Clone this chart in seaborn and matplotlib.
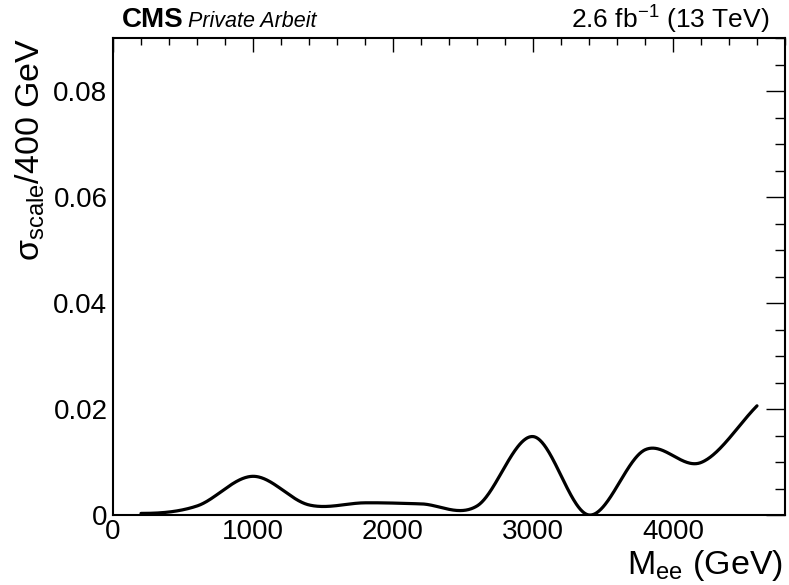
import numpy as np
import pandas as pd
import matplotlib
matplotlib.use("Agg")
import matplotlib.pyplot as plt
import seaborn as sns
from matplotlib.ticker import MultipleLocator, FixedLocator

# ---- data ----
mass_gev = [200, 600, 1000, 1400, 1800, 2200, 2600, 3000, 3400, 3800, 4200, 4600]
sigma_scale = [0.0003, 0.0017, 0.0073, 0.0019, 0.0023, 0.0021, 0.0017, 0.0148,
               0.0000, 0.0123, 0.0099, 0.0206]
x_ticks = [0, 1000, 2000, 3000, 4000]
x_tick_labels = ["0", "1000", "2000", "3000", "4000"]
y_ticks = [0, 0.02, 0.04, 0.06, 0.08]
y_tick_labels = ["0", "0.02", "0.04", "0.06", "0.08"]


def catmull_rom(x, y, n_per_seg=80):
    """Smooth curve through the points (like ROOT's 'C' draw option)."""
    x = np.asarray(x, float)
    y = np.asarray(y, float)
    n = len(x)
    m = np.zeros(n)
    m[1:-1] = (y[2:] - y[:-2]) / (x[2:] - x[:-2])
    m[0] = 0.0
    m[-1] = (y[-1] - y[-2]) / (x[-1] - x[-2])
    xs_all, ys_all = [], []
    for i in range(n - 1):
        h = x[i + 1] - x[i]
        t = np.linspace(0, 1, n_per_seg, endpoint=(i == n - 2))
        h00 = 2 * t**3 - 3 * t**2 + 1
        h10 = t**3 - 2 * t**2 + t
        h01 = -2 * t**3 + 3 * t**2
        h11 = t**3 - t**2
        xs_all.append(x[i] + t * h)
        ys_all.append(h00 * y[i] + h10 * h * m[i] + h01 * y[i + 1] + h11 * h * m[i + 1])
    return np.concatenate(xs_all), np.concatenate(ys_all)


sns.set_theme(style="white")
plt.rcParams["font.family"] = ["Liberation Sans", "DejaVu Sans"]
plt.rcParams["mathtext.fontset"] = "custom"
plt.rcParams["mathtext.rm"] = "Liberation Sans"
plt.rcParams["mathtext.it"] = "Liberation Sans:italic"
plt.rcParams["mathtext.bf"] = "Liberation Sans:bold"
plt.rcParams["mathtext.default"] = "regular"
plt.rcParams["text.color"] = "black"
plt.rcParams["axes.labelcolor"] = "black"
plt.rcParams["xtick.color"] = "black"
plt.rcParams["ytick.color"] = "black"

fig = plt.figure(figsize=(7.89, 5.85), dpi=100)
ax = fig.add_axes([113 / 789, 1 - 515 / 585, (785 - 113) / 789, (515 - 38) / 585])

xs, ys = catmull_rom(mass_gev, sigma_scale)
df = pd.DataFrame({"M": xs, "sigma": ys})
sns.lineplot(data=df, x="M", y="sigma", ax=ax, color="black", linewidth=2.3,
             sort=False, estimator=None)

ax.set_xlim(0, 4800)
ax.set_ylim(0, 0.09)
ax.xaxis.set_major_locator(FixedLocator(x_ticks))
ax.set_xticklabels(x_tick_labels)
ax.yaxis.set_major_locator(FixedLocator(y_ticks))
ax.set_yticklabels(y_tick_labels)
ax.xaxis.set_minor_locator(MultipleLocator(200))
ax.yaxis.set_minor_locator(MultipleLocator(0.005))

ax.tick_params(axis="both", which="both", direction="in", top=True, right=True,
               colors="black", width=1.0, labelsize=20)
ax.tick_params(axis="x", which="major", length=10, pad=3)
ax.tick_params(axis="x", which="minor", length=5)
ax.tick_params(axis="y", which="major", length=14, pad=4)
ax.tick_params(axis="y", which="minor", length=7)
for s in ax.spines.values():
    s.set_color("black")
    s.set_linewidth(1.5)
ax.set_xlabel("")
ax.set_ylabel("")

fig.text(783 / 789, 1 - 574 / 585, r"M$_{\mathrm{ee}}$ (GeV)", fontsize=24.5,
         ha="right", va="baseline")
fig.text(14 / 789, 1 - 38 / 585, r"$\sigma_{\mathrm{scale}}$/400 GeV", fontsize=24.5,
         rotation=90, ha="left", va="top")

fig.text(122 / 789, 1 - 27 / 585, "CMS", fontsize=20, fontweight="bold",
         ha="left", va="baseline")
fig.text(188 / 789, 1 - 27 / 585, "Private Arbeit", fontsize=15.5, style="italic",
         ha="left", va="baseline")
fig.text(769 / 789, 1 - 29 / 585, r"2.6 fb$^{-1}$ (13 TeV)", fontsize=19,
         ha="right", va="baseline")

fig.savefig("out.png", dpi=100)
